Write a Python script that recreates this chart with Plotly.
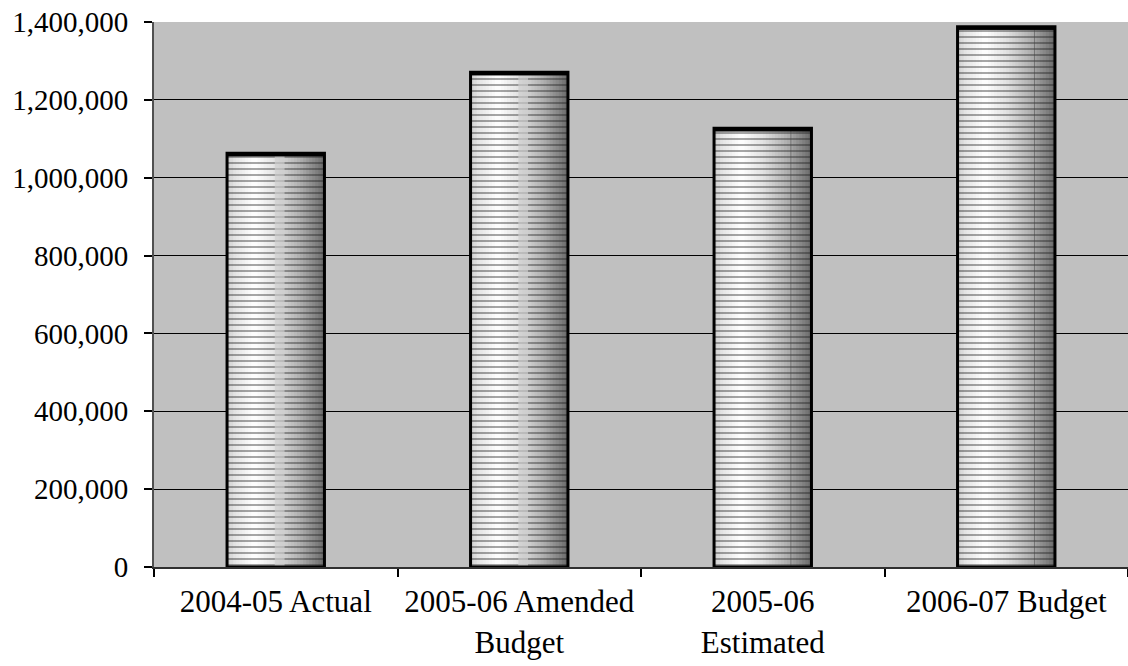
import plotly.graph_objects as go

# Chart data
categories = ["2004-05 Actual", "2005-06 Amended<br>Budget", "2005-06<br>Estimated", "2006-07 Budget"]
values = [1063000, 1271000, 1127000, 1388000]
y_ticks = [0, 200000, 400000, 600000, 800000, 1000000, 1200000, 1400000]
y_tick_labels = ["0", "200,000", "400,000", "600,000", "800,000", "1,000,000", "1,200,000", "1,400,000"]

BAR_W = 0.4
N_STRIPS = 32
CAP = 7000  # thickness of the heavy cap on top of each bar, in data units

# horizontal shading profile across a bar (fraction -> grey level)
shade_stops = [(0.0, 205), (0.08, 228), (0.28, 255), (0.5, 226), (0.75, 175), (1.0, 105)]


def grey_at(t):
    for (t0, g0), (t1, g1) in zip(shade_stops[:-1], shade_stops[1:]):
        if t0 <= t <= t1:
            g = g0 + (g1 - g0) * (t - t0) / (t1 - t0)
            g = int(round(g))
            return f"rgb({g},{g},{g})"
    return "rgb(128,128,128)"


fig = go.Figure()

strip_w = BAR_W / N_STRIPS
for i in range(N_STRIPS):
    t = (i + 0.5) / N_STRIPS
    fig.add_trace(go.Bar(
        x=categories, y=values,
        width=strip_w * 1.25,
        offset=-BAR_W / 2 + i * strip_w,
        marker=dict(color=grey_at(t), line=dict(width=0)),
        hoverinfo="skip", showlegend=False,
    ))

# horizontal line hatching
fig.add_trace(go.Bar(
    x=categories, y=values, width=BAR_W, offset=-BAR_W / 2,
    marker=dict(
        color="rgba(0,0,0,0)",
        line=dict(width=0),
        pattern=dict(shape="-", size=6, solidity=0.26,
                     fgcolor="#1a1a1a", bgcolor="rgba(0,0,0,0)", fillmode="overlay"),
    ),
    hoverinfo="skip", showlegend=False,
))

# pale centre column on the first two bars
fig.add_trace(go.Bar(
    x=categories[:2], y=values[:2], width=BAR_W * 0.1, offset=-BAR_W / 2 + BAR_W * 0.49,
    marker=dict(color="rgba(205,205,205,0.7)", line=dict(width=0)),
    hoverinfo="skip", showlegend=False,
))

# thin dark seam on the last two bars
fig.add_trace(go.Bar(
    x=categories[2:], y=values[2:], width=BAR_W * 0.008, offset=-BAR_W / 2 + BAR_W * 0.785,
    marker=dict(color="rgba(70,70,70,0.6)", line=dict(width=0)),
    hoverinfo="skip", showlegend=False,
))

# bar outlines
fig.add_trace(go.Bar(
    x=categories, y=values, width=BAR_W, offset=-BAR_W / 2,
    marker=dict(color="rgba(0,0,0,0)", line=dict(color="#000000", width=3)),
    hoverinfo="skip", showlegend=False,
))

# heavy top edge
fig.add_trace(go.Bar(
    x=categories, y=[CAP] * len(values), base=[v - CAP for v in values],
    width=BAR_W, offset=-BAR_W / 2,
    marker=dict(color="#000000", line=dict(color="#000000", width=1)),
    hoverinfo="skip", showlegend=False,
))

fig.update_layout(
    width=1128, height=666,
    margin=dict(l=154, r=0, t=22, b=99),
    paper_bgcolor="#ffffff",
    plot_bgcolor="#c0c0c0",
    barmode="overlay",
    font=dict(family="Liberation Serif", size=29, color="#000000"),
    xaxis=dict(
        type="category",
        tickson="boundaries",
        ticks="outside", ticklen=8, tickwidth=1.5, tickcolor="#000000",
        ticklabelstandoff=6,
        showline=True, linecolor="#303030", linewidth=2,
        showgrid=False,
        tickfont=dict(family="Liberation Serif", size=31),
        fixedrange=True,
    ),
    yaxis=dict(
        range=[0, 1400000],
        tickvals=y_ticks, ticktext=y_tick_labels,
        ticks="outside", ticklen=8, tickwidth=1.5, tickcolor="#000000",
        ticklabelstandoff=10,
        showline=True, linecolor="#505050", linewidth=2,
        showgrid=True, gridcolor="#000000", gridwidth=1,
        zeroline=False,
        tickfont=dict(family="Liberation Serif", size=29),
        fixedrange=True,
    ),
)

fig.write_html("out.html")
